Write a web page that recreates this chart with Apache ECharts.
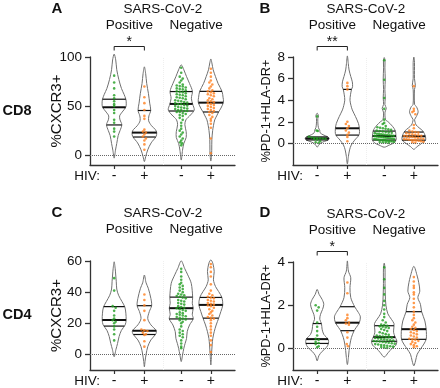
<!DOCTYPE html>
<html>
<head>
<meta charset="utf-8">
<script src="https://cdn.jsdelivr.net/npm/echarts@6/dist/echarts.min.js"></script>
<style>
html, body { margin: 0; padding: 0; background: #fff; }
#chart { width: 440px; height: 388px; }
</style>
</head>
<body>
<div id="chart"></div>
<script>
// group positions on the x axis (Positive -/+ , Negative -/+)
var groupX = [1, 2, 3.22, 4.2];
var hivLabels = ['-', '+', '-', '+'];
var groupColors = ['#1f9c1f', '#ff7f1e', '#1f9c1f', '#ff7f1e'];

// A: CD8 %CXCR3+
var ptsA = [
    [81, 74, 68, 61, 58, 55, 52, 50, 46, 43, 36, 33, 27, 24, 19],
    [70, 59, 53, 46, 40, 37, 26, 24, 23, 21, 19, 17, 15, 11, 5.5],
    [89, 84, 80, 78, 76, 74, 72, 71, 70.5, 70, 69, 68, 67.5, 67, 66, 65, 64.5, 64, 63, 62, 61.5, 61, 60, 59, 58.5, 58, 57, 56, 55.5, 55, 54, 53.5, 53, 52, 52, 51, 50.5, 50, 49, 48.5, 48, 47.5, 47, 46, 46, 45, 45, 44, 44, 43, 42, 41, 40, 38, 36, 33, 30, 27, 25, 23, 21, 19, 17, 15, 13, 12, 10],
    [88, 84, 80, 76, 74, 72, 70, 68, 66, 65, 64, 63, 62, 61, 60, 58, 57, 56, 55, 54, 53, 52, 51, 50, 49, 48, 47, 46, 45, 44, 43, 41, 39, 37, 35, 32, 28, 17, 2]
];
var q1A = [30.8, 18.5, 45, 44];
var medA = [48.8, 23, 52.2, 53.5];
var q3A = [57, 45.5, 64.8, 65];
// violin outlines: [value, relative density]
var violinA = [
    [[103, 0], [97, .12], [87, .2], [77, .36], [68, .56], [62, .76], [57, .9], [53, .93], [49, .9], [44, .62], [40, .42], [36, .45], [31, .59], [25, .45], [20, .31], [12, .2], [5, .1], [-3, 0]],
    [[90, 0], [83, .1], [73, .18], [63, .31], [53, .41], [45.5, .49], [40, .35], [35, .33], [30, .55], [26, .85], [23, .95], [19, .9], [12.5, .52], [5.5, .26], [-1.5, .1], [-6.5, 0]],
    [[92, 0], [87, .2], [80, .41], [73, .64], [65, .86], [58, .78], [52, .88], [46, 1], [41, .72], [36, .36], [31, .28], [24, .38], [18, .38], [12, .2], [5, .1], [-5, 0]],
    [[98, 0], [94, .08], [87, .18], [80, .36], [73, .56], [65, .86], [59, .94], [54, .97], [48, .78], [44, .6], [40, .45], [36, .3], [30, .2], [25, .14], [16, .08], [5, .07], [-1, .05], [-6, 0]]
];

// B: CD8 %PD-1+HLA-DR+
var ptsB = [
    [2.5, 1.2, 1.15, 0.62, 0.55, 0.52, 0.5, 0.48, 0.45, 0.42, 0.4, 0.35, 0.2, 0.1, 0.05],
    [5.6, 5.3, 5.0, 2.0, 1.8, 1.6, 1.4, 1.2, 1.0, 0.8, 0.6, 0.2],
    [7.7, 5.9, 4.2, 3.2, 2.2, 1.9, 1.8, 1.6, 1.5, 1.45, 1.4, 1.35, 1.3, 1.25, 1.2, 1.15, 1.1, 1.05, 1.0, 0.98, 0.95, 0.9, 0.88, 0.85, 0.82, 0.8, 0.78, 0.75, 0.72, 0.7, 0.68, 0.65, 0.62, 0.6, 0.58, 0.55, 0.52, 0.5, 0.48, 0.45, 0.42, 0.4, 0.38, 0.36, 0.34, 0.32, 0.3, 0.28, 0.25, 0.22, 0.2, 0.18, 0.15, 0.12, 0.1, 0.08, 0.05],
    [5.3, 3.2, 3.0, 2.9, 2.7, 1.7, 1.4, 1.2, 1.1, 1.05, 1.0, 0.95, 0.9, 0.85, 0.8, 0.75, 0.7, 0.68, 0.65, 0.62, 0.6, 0.55, 0.5, 0.45, 0.42, 0.4, 0.38, 0.35, 0.32, 0.3, 0.28, 0.25, 0.2, 0.15, 0.1, 0.05]
];
var q1B = [0.32, 0.77, 0.31, 0.3];
var medB = [0.46, 1.4, 0.68, 0.66];
var q3B = [0.6, 5.0, 1.14, 1.05];
var violinB = [
    [[2.8, 0], [2.55, .1], [2.3, .05], [1.8, .06], [1.45, .1], [1.2, .2], [1.0, .22], [0.8, .45], [0.62, .8], [0.47, .92], [0.32, .85], [0.18, .55], [0.05, .3], [-0.15, .12], [-0.35, 0]],
    [[8.1, 0], [7.4, .07], [6.8, .13], [6.2, .26], [5.7, .38], [5.25, .4], [5.0, .32], [4.5, .24], [4.0, .2], [3.5, .28], [3.1, .38], [2.5, .62], [1.85, .85], [1.4, .92], [0.8, .9], [0.3, .56], [-0.15, .3], [-0.6, .17], [-1.2, .08], [-1.9, 0]],
    [[7.95, 0], [7.7, .06], [7, .05], [5.9, .08], [5, .05], [4.2, .08], [3.6, .05], [3.25, .16], [2.9, .06], [2.2, .1], [2.0, .3], [1.7, .55], [1.4, .75], [1.1, .87], [0.7, .9], [0.35, .92], [0.05, .75], [-0.15, .4], [-0.35, 0]],
    [[8.0, 0], [7.5, .05], [6, .05], [5.35, .12], [5.0, .05], [3.6, .06], [3.4, .2], [2.93, .33], [2.5, .2], [2.2, .06], [1.95, .1], [1.7, .18], [1.45, .4], [1.14, .7], [0.7, .88], [0.3, .9], [0, .6], [-0.3, .25], [-0.55, 0]]
];

// C: CD4 %CXCR3+
var ptsC = [
    [49, 41, 31, 30, 28, 25, 23, 22, 21, 20, 18, 16, 13, 9],
    [38.5, 35, 31.5, 28, 22, 16, 15.5, 15, 14, 13, 12.5, 8.5, 5],
    [55, 53, 50, 48, 46, 45, 44, 43, 42, 41, 40, 39, 38.5, 38, 37.5, 37, 36.5, 36, 35, 34.5, 34, 33, 32.5, 32, 31, 30.5, 30, 29.7, 29, 28.5, 28, 27, 26.5, 26, 25.5, 25, 24.5, 24, 23.5, 23, 22.5, 22, 21, 20, 18, 16, 15, 14, 13, 12, 11, 9, 7, 5, 4],
    [58, 56, 53, 50, 45, 41, 39, 38, 37, 36.5, 36, 35, 34.5, 34, 33, 32.5, 32, 31.5, 31, 30, 29, 28, 27, 26, 25, 24, 23.5, 23, 22, 20, 18, 16, 14, 12, 9, 6, 1.5]
];
var q1C = [18.2, 12.8, 22.8, 23.3];
var medC = [22.1, 15.2, 29.7, 31.8];
var q3C = [30.7, 31.3, 36.8, 36.6];
var violinC = [
    [[59.5, 0], [55, .08], [51, .12], [47, .16], [42, .2], [38, .34], [34, .6], [30.5, .82], [26.5, .9], [22, .92], [19, .85], [15.5, .56], [11.5, .38], [7, .26], [3, .13], [-1.5, 0]],
    [[51, 0], [46, .13], [42.5, .3], [36, .5], [31.4, .56], [27.5, .38], [23, .26], [19, .5], [15.2, .92], [13, .87], [9.3, .5], [5, .26], [0, .13], [-4.5, .05], [-8, 0]],
    [[60.1, 0], [55.3, .26], [51.1, .5], [45.7, .77], [36.7, .88], [32.9, .85], [29.7, .92], [25.8, .85], [22.8, .92], [18.9, .64], [14.6, .46], [10.3, .41], [7.1, .3], [3.9, .2], [-0.4, .1], [-4.6, 0]],
    [[60.7, 0], [58.6, .15], [53.2, .26], [47.9, .2], [43.6, .36], [40.4, .6], [36.6, .85], [31.8, .92], [27.5, .77], [23.2, .6], [18.9, .41], [14.6, .26], [10.3, .15], [6.1, .1], [-0.4, .05], [-6.8, 0]]
];

// D: CD4 %PD-1+HLA-DR+
var ptsD = [
    [2.0, 1.9, 1.75, 1.2, 1.0, 0.8, 0.6, 0.45, 0.4, 0.3, 0.25, 0.2, 0.1, 0.05],
    [3.05, 2.55, 1.55, 1.4, 1.3, 1.2, 1.15, 1.1, 0.75, 0.5, 0.2, 0.1],
    [3.75, 3.2, 2.8, 2.5, 2.2, 2.0, 1.8, 1.6, 1.45, 1.3, 1.2, 1.1, 1.08, 1.05, 1.02, 1.0, 0.97, 0.95, 0.9, 0.85, 0.8, 0.75, 0.7, 0.66, 0.63, 0.6, 0.57, 0.55, 0.53, 0.52, 0.5, 0.48, 0.46, 0.44, 0.42, 0.4, 0.38, 0.36, 0.34, 0.33, 0.32, 0.3, 0.28, 0.26, 0.24, 0.22, 0.2, 0.18, 0.16, 0.14, 0.12, 0.1, 0.08, 0.06, 0.04, 0.02],
    [3.3, 3.1, 2.9, 2.8, 2.6, 2.5, 2.3, 2.1, 1.9, 1.7, 1.55, 1.4, 1.3, 1.2, 1.1, 1.0, 0.95, 0.9, 0.85, 0.8, 0.75, 0.7, 0.65, 0.6, 0.55, 0.5, 0.45, 0.42, 0.4, 0.35, 0.3, 0.25, 0.2, 0.15, 0.1, 0.05]
];
var q1D = [0.23, 0.82, 0.33, 0.42];
var medD = [0.43, 1.19, 0.52, 0.89];
var q3D = [1.15, 1.93, 1.05, 1.7];
var violinD = [
    [[2.73, 0], [2.5, .15], [2.27, .38], [2.04, .51], [1.8, .41], [1.58, .26], [1.35, .2], [1.15, .33], [0.89, .38], [0.65, .51], [0.42, .85], [0.23, .87], [0.05, .72], [-0.14, .38], [-0.34, .13], [-0.58, 0]],
    [[4.05, 0], [3.58, .08], [3.27, .26], [2.81, .2], [2.35, .26], [1.93, .56], [1.66, .85], [1.46, 1], [1.19, .92], [0.96, .67], [0.81, .51], [0.5, .31], [0.2, .2], [-0.1, .13], [-0.42, .08], [-0.75, 0]],
    [[3.95, 0], [3.7, .06], [3, .06], [2.5, .08], [2.0, .13], [1.6, .28], [1.35, .55], [1.15, .75], [0.95, .74], [0.75, .72], [0.55, .82], [0.35, .97], [0.15, .9], [0, .6], [-0.2, .3], [-0.4, 0]],
    [[3.8, 0], [3.35, .26], [3.04, .38], [2.65, .46], [2.35, .31], [2.04, .51], [1.7, .6], [1.27, .85], [0.89, .95], [0.65, .97], [0.42, .95], [0.2, .77], [-0.03, .51], [-0.27, .26], [-0.58, .13], [-0.81, 0]]
];

var panels = [
    { pts: ptsA, q1: q1A, med: medA, q3: q3A, violin: violinA, min: -10, max: 100, ticks: [0, 50, 100],
      name: '%CXCR3+', nameSize: 15, nameGap: 26, left: 90, top: 57, height: 108,
      letter: 'A', lx: 57, ly: 9, row: 'CD8', sig: '*' },
    { pts: ptsB, q1: q1B, med: medB, q3: q3B, violin: violinB, min: -2, max: 8, ticks: [0, 2, 4, 6, 8],
      name: '%PD-1+HLA-DR+', nameSize: 12.8, nameGap: 20, left: 293, top: 57, height: 108,
      letter: 'B', lx: 265, ly: 9, row: '', sig: '**' },
    { pts: ptsC, q1: q1C, med: medC, q3: q3C, violin: violinC, min: -10, max: 60, ticks: [0, 20, 40, 60],
      name: '%CXCR3+', nameSize: 15, nameGap: 26, left: 90, top: 261, height: 109,
      letter: 'C', lx: 57, ly: 213, row: 'CD4', sig: '' },
    { pts: ptsD, q1: q1D, med: medD, q3: q3D, violin: violinD, min: -1, max: 4, ticks: [0, 2, 4],
      name: '%PD-1+HLA-DR+', nameSize: 12.8, nameGap: 20, left: 293, top: 262, height: 108,
      letter: 'D', lx: 265, ly: 213, row: '', sig: '*' }
];

var xMin = 0.2, xMax = 5.0, gridW = 145;
var halfW = 0.43;   // x units for full density
var font = '"Liberation Sans", Arial, sans-serif';

function widthAt(prof, v) {
    for (var i = 0; i < prof.length - 1; i++) {
        var a = prof[i], b = prof[i + 1];
        if (v <= a[0] && v >= b[0]) {
            var t = (a[0] - v) / (a[0] - b[0]);
            return a[1] + (b[1] - a[1]) * t;
        }
    }
    return 0;
}

// spread points of one group sideways in rows, kept inside the violin
function swarm(vals, x, prof, pxY, pxX) {
    var bins = {};
    vals.forEach(function (v) {
        var b = Math.round(v * pxY / 3);
        (bins[b] = bins[b] || []).push(v);
    });
    var out = [];
    Object.keys(bins).forEach(function (b) {
        var row = bins[b], n = row.length;
        var room = Math.max(0, widthAt(prof, row[0]) * halfW * pxX - 2);
        var step = n > 1 ? Math.min(3, 2 * room / (n - 1)) : 0;
        row.forEach(function (v, j) {
            out.push([x + (j - (n - 1) / 2) * step / pxX, v]);
        });
    });
    return out;
}

function violinRender(p) {
    return function (params, api) {
        var i = params.dataIndex;
        var cx = api.value(0);
        var prof = p.violin[i];
        var right = [], left = [];
        prof.forEach(function (d, k) {
            right.push(api.coord([cx + d[1] * halfW, d[0]]));
            if (k > 0 && k < prof.length - 1) left.unshift(api.coord([cx - d[1] * halfW, d[0]]));
        });
        var children = [{
            type: 'polygon',
            shape: { points: right.concat(left), smooth: 0.3 },
            style: { fill: 'rgba(255,255,255,0)', stroke: '#707070', lineWidth: 1 }
        }];
        [[p.q3[i], 1.2], [p.q1[i], 1.2], [p.med[i], 2]].forEach(function (q) {
            var w = widthAt(prof, q[0]) * halfW;
            var a = api.coord([cx - w, q[0]]), b = api.coord([cx + w, q[0]]);
            children.push({
                type: 'line',
                shape: { x1: a[0], y1: a[1], x2: b[0], y2: b[1] },
                style: { stroke: '#111', lineWidth: q[1] }
            });
        });
        return { type: 'group', children: children };
    };
}

var grids = [], xAxes = [], yAxes = [], series = [];
panels.forEach(function (p, k) {
    grids.push({ left: p.left, top: p.top, width: gridW, height: p.height });
    xAxes.push({
        gridIndex: k, type: 'value', min: xMin, max: xMax,
        axisLine: { onZero: false, lineStyle: { color: '#333', width: 1.3 } },
        axisTick: { show: true, length: 4, customValues: groupX, lineStyle: { color: '#333', width: 1.2 } },
        axisLabel: {
            customValues: groupX, fontSize: 14, color: '#111', margin: 4, fontFamily: font,
            formatter: function (v) {
                var best = 0;
                groupX.forEach(function (g, j) { if (Math.abs(g - v) < Math.abs(groupX[best] - v)) best = j; });
                return hivLabels[best];
            }
        },
        splitLine: { show: false }
    });
    yAxes.push({
        gridIndex: k, type: 'value', min: p.min, max: p.max,
        axisLine: { show: true, onZero: false, lineStyle: { color: '#333', width: 1.3 } },
        axisTick: { show: true, length: 5, customValues: p.ticks, lineStyle: { color: '#333', width: 1.3 } },
        axisLabel: { customValues: p.ticks, fontSize: 13.5, color: '#111', margin: 8, fontFamily: font },
        splitLine: { show: false },
        name: p.name, nameLocation: 'middle', nameGap: p.nameGap, nameMoveOverlap: false,
        nameTextStyle: { fontSize: p.nameSize, color: '#111', fontFamily: font }
    });

    // reference lines
    series.push({
        type: 'scatter', xAxisIndex: k, yAxisIndex: k, data: [], z: 1, silent: true,
        markLine: {
            silent: true, symbol: 'none', label: { show: false }, animation: false,
            data: [
                { yAxis: 0, lineStyle: { type: 'dotted', color: '#666', width: 1 } },
                { xAxis: (groupX[1] + groupX[2]) / 2, lineStyle: { type: 'dotted', color: '#efefef', width: 1 } }
            ]
        }
    });

    series.push({
        type: 'custom', xAxisIndex: k, yAxisIndex: k, z: 2, clip: false,
        renderItem: violinRender(p),
        encode: { x: 0, y: 1 },
        data: groupX.map(function (x, i) { return [x, p.med[i]]; })
    });

    var pxY = p.height / (p.max - p.min), pxX = gridW / (xMax - xMin);
    p.pts.forEach(function (vals, i) {
        series.push({
            type: 'scatter', xAxisIndex: k, yAxisIndex: k, z: 3,
            symbol: 'circle', symbolSize: 2.6,
            itemStyle: { color: groupColors[i] },
            data: swarm(vals, groupX[i], p.violin[i], pxY, pxX)
        });
    });
});

var chart = echarts.init(document.getElementById('chart'));
chart.setOption({
    animation: false,
    textStyle: { fontFamily: font },
    grid: grids, xAxis: xAxes, yAxis: yAxes, series: series
});

// headers, labels and significance brackets, placed from the axes
function txt(t, x, y, size, bold, align) {
    return {
        type: 'text', silent: true,
        style: {
            text: t, x: x, y: y, fill: '#111',
            font: (bold ? 'bold ' : '') + size + 'px ' + font,
            textAlign: align || 'center', align: align || 'center',
            textVerticalAlign: 'middle', verticalAlign: 'middle'
        }
    };
}
var g = [];
panels.forEach(function (p, k) {
    var px = groupX.map(function (x) { return chart.convertToPixel({ gridIndex: k }, [x, 0])[0]; });
    var topY = p.top, botY = p.top + p.height;
    g.push(txt(p.letter, p.lx, p.ly, 15, true));
    g.push(txt('SARS-CoV-2', (px[1] + px[2]) / 2, topY - 48, 13.5));
    g.push(txt('Positive', (px[0] + px[1]) / 2, topY - 31.5, 13.5));
    g.push(txt('Negative', (px[2] + px[3]) / 2, topY - 31.5, 13.5));
    g.push(txt('HIV:', p.left + 10, botY + 11.5, 13.5, false, 'right'));
    if (p.row) g.push(txt(p.row, 17, topY + 53.5, 14.5, true));
    if (p.sig) {
        var by = topY - 10.5;
        g.push({
            type: 'polyline', silent: true,
            shape: { points: [[px[0], by + 4], [px[0], by], [px[1], by], [px[1], by + 4]] },
            style: { stroke: '#222', lineWidth: 1, fill: null }
        });
        g.push(txt(p.sig, (px[0] + px[1]) / 2, by - 4, 14));
    }
});
chart.setOption({ graphic: g });
</script>
</body>
</html>
